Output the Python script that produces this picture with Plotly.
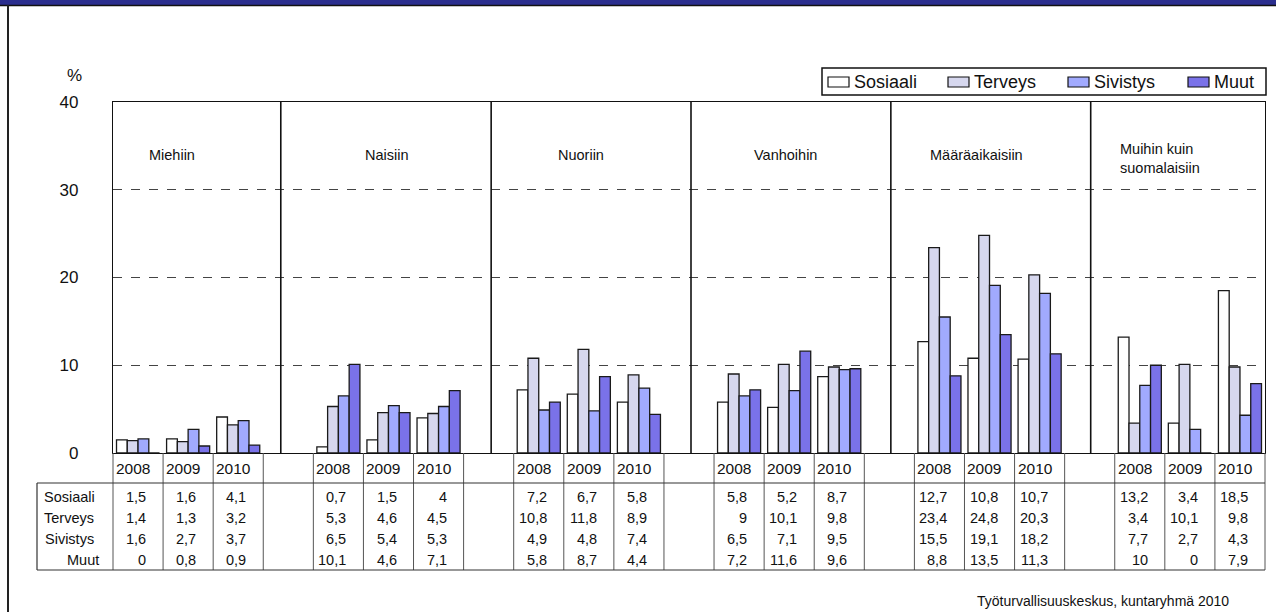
import plotly.graph_objects as go

# ---- data -------------------------------------------------------------
groups = ["Miehiin", "Naisiin", "Nuoriin", "Vanhoihin", "Määräaikaisiin",
          "Muihin kuin<br>suomalaisiin"]
years = ["2008", "2009", "2010"]
series = ["Sosiaali", "Terveys", "Sivistys", "Muut"]

sosiaali = [1.5, 1.6, 4.1, 0.7, 1.5, 4, 7.2, 6.7, 5.8, 5.8, 5.2, 8.7,
            12.7, 10.8, 10.7, 13.2, 3.4, 18.5]
terveys = [1.4, 1.3, 3.2, 5.3, 4.6, 4.5, 10.8, 11.8, 8.9, 9, 10.1, 9.8,
           23.4, 24.8, 20.3, 3.4, 10.1, 9.8]
sivistys = [1.6, 2.7, 3.7, 6.5, 5.4, 5.3, 4.9, 4.8, 7.4, 6.5, 7.1, 9.5,
            15.5, 19.1, 18.2, 7.7, 2.7, 4.3]
muut = [0, 0.8, 0.9, 10.1, 4.6, 7.1, 5.8, 8.7, 4.4, 7.2, 11.6, 9.6,
        8.8, 13.5, 11.3, 10, 0, 7.9]

values = [sosiaali, terveys, sivistys, muut]
colors = ["#FFFFFF", "#D6D7EE", "#A1AAFE", "#7A72E9"]

# ---- geometry (pixels) --------------------------------------------------
W, H = 1276, 612
L, R, T, B = 113, 11, 102, 159
PW, PH = W - L - R, H - T - B
N_SLOTS = len(groups) * 4 - 1          # 3 years + spacer per group, no trailing spacer
FONT = "Liberation Sans, Arial, sans-serif"


def px(x):
    return (x - L) / PW


def py(y):
    return (H - B - y) / PH


# slot position of each (group, year)
slots = [g * 4 + k for g in range(len(groups)) for k in range(len(years))]

fig = go.Figure()
for name, vals, col in zip(series, values, colors):
    fig.add_trace(go.Bar(
        x=slots, y=vals, name=name,
        marker=dict(color=col, line=dict(color="#1a1a1a", width=1.3)),
        showlegend=False, hoverinfo="x+y+name",
    ))

shapes = []
ann = []

# group separators inside the plot
for xs in [2.85, 7.05, 11.04, 15.03, 19.02]:
    shapes.append(dict(type="line", xref="x", yref="y", x0=xs, x1=xs, y0=0, y1=40,
                       line=dict(color="#111", width=1.6)))

# group titles
title_pos = [147, 363, 556, 752, 928, 1118]
for name, xpos in zip(groups, title_pos):
    two = "<br>" in name
    ann.append(dict(xref="paper", yref="paper", x=px(xpos), y=py(158 if two else 155),
                    text=name, showarrow=False, xanchor="left", yanchor="middle",
                    align="left", font=dict(family=FONT, size=14.5, color="#111")))

# ---- data table under the axis -----------------------------------------
tbl_top, hdr_bot, tbl_bot = 453, 483, 570
for k in range(N_SLOTS + 1):
    xk = k / N_SLOTS
    shapes.append(dict(type="line", xref="paper", yref="paper", x0=xk, x1=xk,
                       y0=py(tbl_top), y1=py(tbl_bot), line=dict(color="#555", width=1)))
for yy in (hdr_bot, tbl_bot):
    shapes.append(dict(type="line", xref="paper", yref="paper", x0=px(37), x1=1,
                       y0=py(yy), y1=py(yy), line=dict(color="#333", width=1.2)))
shapes.append(dict(type="line", xref="paper", yref="paper", x0=px(37), x1=px(37),
                   y0=py(hdr_bot), y1=py(tbl_bot), line=dict(color="#333", width=1.2)))

row_y = [497, 518, 539, 560]

for s in slots:
    ann.append(dict(xref="x", yref="paper", x=s - 0.5, y=py(469), text=years[s % 4],
                    showarrow=False, xanchor="left", yanchor="middle", xshift=1,
                    font=dict(family=FONT, size=15.5, color="#111")))


def fmt(v):
    return f"{v:g}".replace(".", ",")


for r, (name, vals) in enumerate(zip(series, values)):
    if name == "Muut":
        ann.append(dict(xref="paper", yref="paper", x=px(101), y=py(row_y[r]), text=name,
                        showarrow=False, xanchor="right", yanchor="middle",
                        font=dict(family=FONT, size=14.5, color="#111")))
    else:
        ann.append(dict(xref="paper", yref="paper", x=px(69), y=py(row_y[r]), text=name,
                        showarrow=False, xanchor="center", yanchor="middle",
                        font=dict(family=FONT, size=14.5, color="#111")))
    for s, v in zip(slots, vals):
        ann.append(dict(xref="x", yref="paper", x=s + 0.5, y=py(row_y[r]), text=fmt(v),
                        showarrow=False, xanchor="right", yanchor="middle", xshift=-15,
                        font=dict(family=FONT, size=14.5, color="#111")))

# ---- legend ---------------------------------------------------------------
shapes.append(dict(type="rect", xref="paper", yref="paper", x0=px(822), x1=px(1266),
                   y0=py(95), y1=py(68), line=dict(color="#111", width=1.5),
                   fillcolor="white"))
for i, (name, col) in enumerate(zip(series, colors)):
    x0 = 828 + 120 * i
    shapes.append(dict(type="rect", xref="paper", yref="paper", x0=px(x0), x1=px(x0 + 21),
                       y0=py(87), y1=py(77), line=dict(color="#111", width=1.2),
                       fillcolor=col))
    ann.append(dict(xref="paper", yref="paper", x=px(x0 + 24), y=py(82), text=name,
                    showarrow=False, xanchor="left", yanchor="middle",
                    font=dict(family=FONT, size=18, color="#111")))

# unit label and source note
ann.append(dict(xref="paper", yref="paper", x=px(74), y=py(75), text="%",
                showarrow=False, xanchor="center", yanchor="middle",
                font=dict(family=FONT, size=17, color="#111")))
ann.append(dict(xref="paper", yref="paper", x=px(1231), y=py(601),
                text="Työturvallisuuskeskus, kuntaryhmä 2010", showarrow=False,
                xanchor="right", yanchor="middle",
                font=dict(family=FONT, size=14, color="#111")))

# page frame: header band and left border
shapes.append(dict(type="rect", xref="paper", yref="paper", x0=px(0), x1=px(W),
                   y0=py(5), y1=py(0), line=dict(width=0), fillcolor="#2B2E8E"))
shapes.append(dict(type="line", xref="paper", yref="paper", x0=px(0), x1=px(W),
                   y0=py(5.5), y1=py(5.5), line=dict(color="#111", width=1.5)))
shapes.append(dict(type="line", xref="paper", yref="paper", x0=px(8), x1=px(8),
                   y0=py(5), y1=py(H), line=dict(color="#222", width=2)))

fig.update_layout(
    width=W, height=H, autosize=False,
    margin=dict(l=L, r=R, t=T, b=B, pad=0),
    paper_bgcolor="white", plot_bgcolor="white",
    barmode="group", bargap=0.14, bargroupgap=0,
    font=dict(family=FONT, color="#111"),
    shapes=shapes, annotations=ann,
    xaxis=dict(range=[-0.5, N_SLOTS - 0.5], showticklabels=False, showgrid=False,
               zeroline=False, showline=True, linecolor="#111", linewidth=1.2,
               mirror=True, ticks=""),
    yaxis=dict(range=[0, 40], tickvals=[0, 10, 20, 30, 40], showgrid=True,
               gridcolor="#444", griddash="dash", gridwidth=1, zeroline=False,
               showline=True, linecolor="#111", linewidth=1.2, mirror=True,
               ticks="", ticklabelstandoff=30,
               tickfont=dict(family=FONT, size=17, color="#111")),
)

fig.write_html("out.html")
